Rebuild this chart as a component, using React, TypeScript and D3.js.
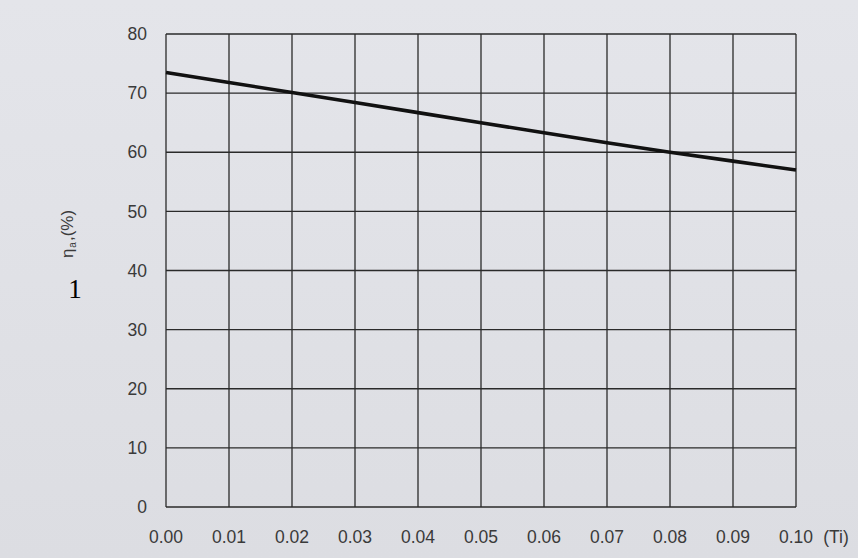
import React from "react";
import * as d3 from "d3";

const xTicks = [0, 0.01, 0.02, 0.03, 0.04, 0.05, 0.06, 0.07, 0.08, 0.09, 0.1];
const yTicks = [0, 10, 20, 30, 40, 50, 60, 70, 80];
const tiValues = [0, 0.01, 0.02, 0.03, 0.04, 0.05, 0.06, 0.07, 0.08, 0.09, 0.1];
const etaValues = [73.5, 71.8, 70.1, 68.4, 66.7, 65.0, 63.3, 61.6, 60.0, 58.5, 57.0];

export default function App() {
  const W = 858, H = 558;
  const x = d3.scaleLinear().domain([0, 0.1]).range([166, 796]);
  const y = d3.scaleLinear().domain([0, 80]).range([507, 34]);
  const line = d3.line<number>().x((_, i) => x(tiValues[i])).y((d) => y(d));
  const font = "Liberation Sans, Arial, sans-serif";
  return (
    <svg width={W} height={H} style={{ position: "absolute", left: 0, top: 0 }}>
      <defs>
        <linearGradient id="bg" x1="0" y1="0" x2="0" y2="1">
          <stop offset="0" stopColor="#e4e5ea" />
          <stop offset="1" stopColor="#dcdde2" />
        </linearGradient>
      </defs>
      <rect x={0} y={0} width={W} height={H} fill="url(#bg)" />
      {xTicks.map((t) => (
        <line key={"vx" + t} x1={x(t)} x2={x(t)} y1={y(80)} y2={y(0)} stroke="#2a2a2a" strokeWidth={1.3} />
      ))}
      {yTicks.map((t) => (
        <line key={"hy" + t} x1={x(0)} x2={x(0.1)} y1={y(t)} y2={y(t)} stroke="#2a2a2a" strokeWidth={1.3} />
      ))}
      <path d={line(etaValues) || ""} fill="none" stroke="#111" strokeWidth={3.6} />
      {yTicks.map((t) => (
        <text key={"ly" + t} x={147} y={y(t)} dy="0.35em" textAnchor="end" fontFamily={font} fontSize={17.5} fill="#3a3a3a">
          {t}
        </text>
      ))}
      {xTicks.map((t) => (
        <text key={"lx" + t} x={x(t)} y={543} textAnchor="middle" fontFamily={font} fontSize={17.5} fill="#3a3a3a">
          {t.toFixed(2)}
        </text>
      ))}
      <text x={836} y={543} textAnchor="middle" fontFamily={font} fontSize={17.5} fill="#3a3a3a">(Ti)</text>
      <text transform="translate(73,234) rotate(-90)" textAnchor="middle" fontFamily={font} fontSize={17} fill="#3a3a3a">
        η<tspan fontSize={10} dx={1} dy={3}>a</tspan><tspan dx={1} dy={-3}>,(%)</tspan>
      </text>
      <text x={75} y={298} textAnchor="middle" fontFamily="Liberation Serif, serif" fontSize={27} fill="#000">1</text>
    </svg>
  );
}
